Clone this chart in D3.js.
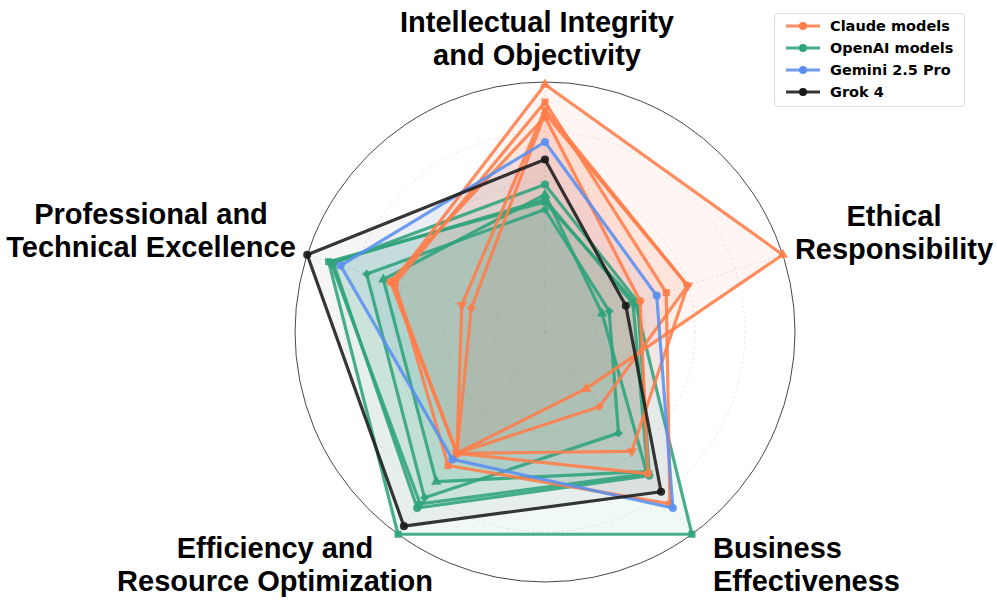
<!DOCTYPE html>
<html>
<head>
<meta charset="utf-8">
<script src="https://cdn.jsdelivr.net/npm/d3@7"></script>
<style>
  body { margin: 0; background: #fff; }
  .axis-label { font-family: "Liberation Sans", Arial, Helvetica, sans-serif; font-weight: bold; font-size: 29px; fill: #000; }
  .legend text { font-family: "DejaVu Sans", sans-serif; font-weight: bold; font-size: 14.5px; fill: #000; }
</style>
</head>
<body>
<div id="chart"></div>
<script>
// axes, clockwise from the top
var axisLabels = [
  ["Intellectual Integrity", "and Objectivity"],
  ["Ethical", "Responsibility"],
  ["Business", "Effectiveness"],
  ["Efficiency and", "Resource Optimization"],
  ["Professional and", "Technical Excellence"]
];

// normalised scores, one row per model, same order as axisLabels
var claudeValues = [
  [0.99, 1.00, 0.28, 0.60, 0.64],
  [0.92, 0.51, 0.85, 0.66, 0.63],
  [0.86, 0.40, 0.70, 0.60, 0.65],
  [0.875, 0.60, 0.37, 0.60, 0.31],
  [0.89, 0.60, 0.59, 0.60, 0.35]
];
var claudeMarkers = ["^", "s", "o", "D", "v"];

var openaiValues = [
  [0.52, 0.38, 1.00, 1.00, 0.91],
  [0.59, 0.39, 0.71, 0.87, 0.89],
  [0.55, 0.24, 0.69, 0.74, 0.68],
  [0.49, 0.27, 0.50, 0.82, 0.75],
  [0.53, 0.37, 0.70, 0.85, 0.90]
];
var openaiMarkers = ["s", "o", "^", "D", "v"];

var geminiValues = [0.76, 0.47, 0.87, 0.63, 0.86];
var grokValues = [0.69, 0.34, 0.79, 0.96, 1.00];

var gridLevels = [0.2, 0.4, 0.6, 0.8];
var legendNames = ["Claude models", "OpenAI models", "Gemini 2.5 Pro", "Grok 4"];

var width = 997, height = 601;
var cx = 545, cy = 332, R = 250;

var colors = {
  claude: "#ff7d4a",
  openai: "#2fa37c",
  gemini: "#5a8ff0",
  grok: "#1a1a1a"
};

var svg = d3.select("#chart").append("svg")
  .attr("width", width)
  .attr("height", height);

var r = d3.scaleLinear().domain([0, 1]).range([0, R]);
var angle = function(i) { return i * 2 * Math.PI / axisLabels.length; };

var plot = svg.append("g")
  .attr("transform", "translate(" + cx + "," + cy + ")");

// grid
plot.selectAll(".grid")
  .data(gridLevels)
  .enter().append("circle")
  .attr("r", function(d) { return r(d); })
  .attr("fill", "none")
  .attr("stroke", "#dcdcdc")
  .attr("stroke-width", 0.8)
  .attr("stroke-dasharray", "2,3");

plot.selectAll(".spoke")
  .data(axisLabels)
  .enter().append("line")
  .attr("x1", 0).attr("y1", 0)
  .attr("x2", function(d, i) { return r(1) * Math.sin(angle(i)); })
  .attr("y2", function(d, i) { return -r(1) * Math.cos(angle(i)); })
  .attr("stroke", "#dcdcdc")
  .attr("stroke-width", 0.8)
  .attr("stroke-dasharray", "2,3");

plot.append("circle")
  .attr("r", r(1))
  .attr("fill", "none")
  .attr("stroke", "#333")
  .attr("stroke-width", 0.9);

var radar = d3.lineRadial()
  .angle(function(d, i) { return angle(i); })
  .radius(function(d) { return r(d); })
  .curve(d3.curveLinearClosed);

function markerPath(m) {
  var type = d3.symbolCircle, size = 52;
  if (m == "s") { type = d3.symbolSquare; size = 50; }
  if (m == "^" || m == "v") { type = d3.symbolTriangle; size = 48; }
  if (m == "D") { type = d3.symbolSquare; size = 40; }
  return d3.symbol().type(type).size(size)();
}
function markerRotate(m) {
  if (m == "v") return 180;
  if (m == "D") return 45;
  return 0;
}

var fillLayer = plot.append("g");
var lineLayer = plot.append("g");

function drawFill(values, color, fillAlpha) {
  fillLayer.append("path")
    .attr("d", radar(values))
    .attr("fill", color)
    .attr("fill-opacity", fillAlpha)
    .attr("stroke", "none");
}

function drawLine(values, color, marker) {
  var g = lineLayer.append("g");
  g.append("path")
    .attr("d", radar(values))
    .attr("fill", "none")
    .attr("stroke", color)
    .attr("stroke-opacity", 0.88)
    .attr("stroke-width", 3.2)
    .attr("stroke-linejoin", "round");
  g.selectAll(".pt")
    .data(values)
    .enter().append("path")
    .attr("d", markerPath(marker))
    .attr("transform", function(d, i) {
      var x = r(d) * Math.sin(angle(i)), y = -r(d) * Math.cos(angle(i));
      return "translate(" + x + "," + y + ") rotate(" + markerRotate(marker) + ")";
    })
    .attr("fill", color)
    .attr("fill-opacity", 0.9);
}

// fills first, then outlines on top
claudeValues.forEach(function(v) { drawFill(v, colors.claude, 0.065); });
openaiValues.forEach(function(v) { drawFill(v, colors.openai, 0.07); });
drawFill(geminiValues, colors.gemini, 0.07);
drawFill(grokValues, colors.grok, 0.045);

openaiValues.forEach(function(v, i) { drawLine(v, colors.openai, openaiMarkers[i]); });
claudeValues.forEach(function(v, i) { drawLine(v, colors.claude, claudeMarkers[i]); });
drawLine(geminiValues, colors.gemini, "o");
drawLine(grokValues, colors.grok, "o");

// axis labels
var labelPos = [
  { x: 537, y: 32, anchor: "middle" },
  { x: 894, y: 226, anchor: "middle" },
  { x: 713, y: 558, anchor: "start" },
  { x: 275, y: 558, anchor: "middle" },
  { x: 151, y: 224, anchor: "middle" }
];

axisLabels.forEach(function(lines, i) {
  var t = svg.append("text")
    .attr("class", "axis-label")
    .attr("text-anchor", labelPos[i].anchor);
  lines.forEach(function(line, j) {
    t.append("tspan")
      .attr("x", labelPos[i].x)
      .attr("y", labelPos[i].y + j * 33)
      .text(line);
  });
});

// legend
var legendColors = [colors.claude, colors.openai, colors.gemini, colors.grok];
var legend = svg.append("g").attr("class", "legend");
legend.append("rect")
  .attr("x", 774.5).attr("y", 13.5)
  .attr("width", 190).attr("height", 93)
  .attr("rx", 3)
  .attr("fill", "#fff")
  .attr("fill-opacity", 0.85)
  .attr("stroke", "#ddd");

var item = legend.selectAll(".item")
  .data(legendNames)
  .enter().append("g")
  .attr("transform", function(d, i) { return "translate(0," + (26 + i * 22) + ")"; });

item.append("line")
  .attr("x1", 786).attr("x2", 820)
  .attr("stroke", function(d, i) { return legendColors[i]; })
  .attr("stroke-opacity", 0.88)
  .attr("stroke-width", 3);
item.append("circle")
  .attr("cx", 803).attr("r", 4)
  .attr("fill", function(d, i) { return legendColors[i]; });
item.append("text")
  .attr("x", 830)
  .attr("dy", "0.36em")
  .text(function(d) { return d; });
</script>
</body>
</html>
